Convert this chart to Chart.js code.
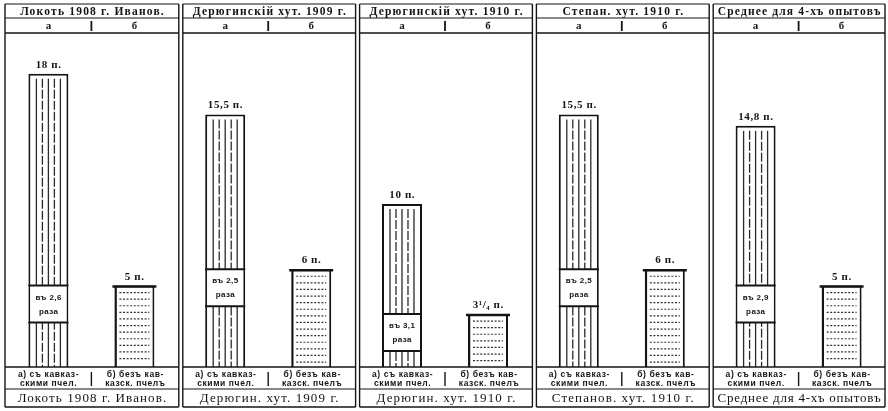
<!DOCTYPE html>
<html><head><meta charset="utf-8">
<script src="https://cdn.jsdelivr.net/npm/chart.js@4.4.1/dist/chart.umd.min.js"></script>
<style>html,body{margin:0;padding:0;background:#fff;}canvas{display:block;}</style>
</head><body>
<canvas id="c" width="888" height="411"></canvas>
<script>
const categories = ['Локоть 1908 г. Иванов.', 'Дерюгинскій хут. 1909 г.', 'Дерюгинскій хут. 1910 г.', 'Степан. хут. 1910 г.', 'Среднее для 4-хъ опытовъ'];
const footerLabels = ['Локоть 1908 г. Иванов.', 'Дерюгин. хут. 1909 г.', 'Дерюгин. хут. 1910 г.', 'Степанов. хут. 1910 г.', 'Среднее для 4-хъ опытовъ'];
const withCaucasian = [18, 15.5, 10, 15.5, 14.8];
const withoutCaucasian = [5, 6, 3.25, 6, 5];
const ratioLabels = ['2,6', '2,5', '3,1', '2,5', '2,9'];
const seriesKeys = ['а', 'б'];
const captionA = ['а) съ кавказ-', 'скими пчел.'];
const captionB = ['б) безъ кав-', 'казск. пчелъ'];
const unit = 'п.';

function fmt(v) {
  const i = Math.floor(v), f = v - i;
  if (Math.abs(f - 0.25) < 1e-6) return i + '¹/₄';
  return String(v).replace('.', ',');
}

const INK = '#141414';
const SERIF = '"Liberation Serif", "DejaVu Serif", serif';
const SANS = '"Liberation Sans", "DejaVu Sans", sans-serif';

function spaced(ctx, text, x, y, sp, maxW) {
  let s = sp;
  if (maxW) {
    ctx.letterSpacing = '0px';
    const w0 = ctx.measureText(text).width;
    const count = text.length;
    if (w0 + s * count > maxW) s = Math.max(0, (maxW - w0) / count);
  }
  ctx.letterSpacing = s + 'px';
  ctx.fillText(text, x + s / 2, y);
  ctx.letterSpacing = '0px';
}

const drawing = {
  id: 'drawing',
  afterDatasetsDraw(chart) {
    const ctx = chart.ctx;
    const ys = chart.scales.y;
    const metaA = chart.getDatasetMeta(0), metaB = chart.getDatasetMeta(1);
    ctx.save();
    metaA.data.forEach((bar, i) => {
      const p = bar.getProps(['x', 'y', 'base', 'width'], true);
      const l = p.x - p.width / 2 + 2, r = p.x + p.width / 2 - 2;
      ctx.strokeStyle = '#2a2a2a'; ctx.lineWidth = 1.3;
      const n = 5;
      for (let k = 1; k <= n; k++) {
        const xx = l + (r - l) * k / (n + 1);
        ctx.setLineDash(k % 2 ? [] : [9, 2]);
        ctx.beginPath(); ctx.moveTo(xx, p.y + 5); ctx.lineTo(xx, p.base); ctx.stroke();
      }
      ctx.setLineDash([]);
      const top = ys.getPixelForValue(withoutCaucasian[i]);
      const h = 37;
      ctx.fillStyle = '#fff';
      ctx.fillRect(l, top, r - l, h);
      ctx.strokeStyle = INK; ctx.lineWidth = 2;
      ctx.beginPath();
      ctx.moveTo(p.x - p.width / 2, top); ctx.lineTo(p.x + p.width / 2, top);
      ctx.moveTo(p.x - p.width / 2, top + h); ctx.lineTo(p.x + p.width / 2, top + h);
      ctx.stroke();
      ctx.fillStyle = INK; ctx.textAlign = 'center'; ctx.textBaseline = 'middle';
      ctx.font = 'bold 8px ' + SANS;
      spaced(ctx, 'въ ' + ratioLabels[i], p.x, top + 12, 0.4);
      spaced(ctx, 'раза', p.x, top + 26, 0.4);
      ctx.font = 'bold 11px ' + SERIF; ctx.textBaseline = 'alphabetic';
      spaced(ctx, fmt(withCaucasian[i]) + ' ' + unit, p.x, p.y - 6, 0.6);
    });
    metaB.data.forEach((bar, i) => {
      const p = bar.getProps(['x', 'y', 'base', 'width'], true);
      const l = p.x - p.width / 2 + 5, r = p.x + p.width / 2 - 5;
      ctx.strokeStyle = '#333'; ctx.lineWidth = 1.2; ctx.setLineDash([2, 1.6]);
      for (let yy = p.y + 7; yy < p.base - 2; yy += 6.6) {
        ctx.beginPath(); ctx.moveTo(l, yy); ctx.lineTo(r, yy); ctx.stroke();
      }
      ctx.setLineDash([]);
      ctx.strokeStyle = INK; ctx.lineWidth = 2.5;
      ctx.beginPath(); ctx.moveTo(p.x - p.width / 2 - 2, p.y + 1); ctx.lineTo(p.x + p.width / 2 + 2, p.y + 1); ctx.stroke();
      ctx.fillStyle = INK; ctx.textAlign = 'center'; ctx.textBaseline = 'alphabetic';
      ctx.font = 'bold 11px ' + SERIF;
      spaced(ctx, fmt(withoutCaucasian[i]) + ' ' + unit, p.x, p.y - 6, 0.6);
    });
    ctx.restore();
  },
  afterDraw(chart) {
    const ctx = chart.ctx, ca = chart.chartArea;
    const xs = chart.scales.x;
    const metaA = chart.getDatasetMeta(0), metaB = chart.getDatasetMeta(1);
    const n = categories.length;
    const cw = (ca.right - ca.left) / n;
    const yTop = ca.top - 29, yTitle = ca.top - 15, ySub = ca.top;
    const yBase = ca.bottom, yCap = ca.bottom + 22, yBot = ca.bottom + 40;
    ctx.save();
    ctx.strokeStyle = INK; ctx.fillStyle = INK;
    const vline = (x, y0, y1, w) => { ctx.lineWidth = w; ctx.beginPath(); ctx.moveTo(x, y0); ctx.lineTo(x, y1); ctx.stroke(); };
    const hline = (x0, x1, y, w) => { ctx.lineWidth = w; ctx.beginPath(); ctx.moveTo(x0, y); ctx.lineTo(x1, y); ctx.stroke(); };
    const edges = [];
    for (let k = 0; k < n; k++) {
      const left = k === 0 ? ca.left + 2 : ca.left + k * cw + 3;
      const right = k === n - 1 ? ca.right - 2 : ca.left + (k + 1) * cw - 1;
      edges.push([left, right]);
    }
    edges.forEach(([l, r], k) => {
      vline(l, yTop, yBot, 1.4);
      vline(r, yTop, yBot, 1.4);
      hline(l, r, yTop, 1.2);
      hline(l, r, yTitle, 1.2);
      hline(l, r, ySub, 1.6);
      hline(l, r, yBase, 1.6);
      hline(l, r, yCap, 1.2);
      hline(l, r, yBot, 1.4);
      const cx = xs.getPixelForValue(k);
      vline(cx, ySub - 12, ySub - 2, 1.8);
      vline(cx, yBase + 5, yCap - 3, 1.4);
      ctx.textAlign = 'center'; ctx.textBaseline = 'middle';
      const maxW = r - l - 8;
      ctx.font = 'bold 11.5px ' + SERIF;
      spaced(ctx, categories[k], (l + r) / 2, (yTop + yTitle) / 2 + 1, 1.2, maxW);
      const ax = metaA.data[k].x, bx = metaB.data[k].x;
      ctx.font = 'bold 11px ' + SERIF;
      ctx.fillText(seriesKeys[0], ax, (yTitle + ySub) / 2 + 0.5);
      ctx.fillText(seriesKeys[1], bx, (yTitle + ySub) / 2 + 0.5);
      ctx.font = 'bold 8.5px ' + SANS;
      const ca1 = (l + cx) / 2, cb1 = (cx + r) / 2;
      spaced(ctx, captionA[0], ca1, yBase + 7.5, 0.6);
      spaced(ctx, captionA[1], ca1, yBase + 16.5, 0.6);
      spaced(ctx, captionB[0], cb1, yBase + 7.5, 0.6);
      spaced(ctx, captionB[1], cb1, yBase + 16.5, 0.6);
      ctx.font = '13px ' + SERIF;
      spaced(ctx, footerLabels[k], (l + r) / 2, (yCap + yBot) / 2 + 0.5, 1.1, maxW);
    });
    ctx.restore();
  }
};

new Chart(document.getElementById('c'), {
  type: 'bar',
  data: {
    labels: categories,
    datasets: [
      { label: 'а) съ кавказскими пчел.', data: withCaucasian, backgroundColor: '#fff', borderColor: INK,
        borderWidth: { top: 2, left: 2, right: 2, bottom: 0 }, categoryPercentage: 0.973, barPercentage: 0.465 },
      { label: 'б) безъ кавказск. пчелъ', data: withoutCaucasian, backgroundColor: '#fff', borderColor: INK,
        borderWidth: { top: 2, left: 2.5, right: 2, bottom: 0 }, categoryPercentage: 0.973, barPercentage: 0.465 }
    ]
  },
  options: {
    responsive: false, animation: false, devicePixelRatio: 1,
    layout: { padding: { left: 3, right: 1, top: 33, bottom: 44 } },
    plugins: { legend: { display: false }, tooltip: { enabled: false }, title: { display: false } },
    scales: {
      x: { display: false },
      y: { display: false, min: 0, max: 20.5 }
    }
  },
  plugins: [drawing]
});
</script>
</body></html>
